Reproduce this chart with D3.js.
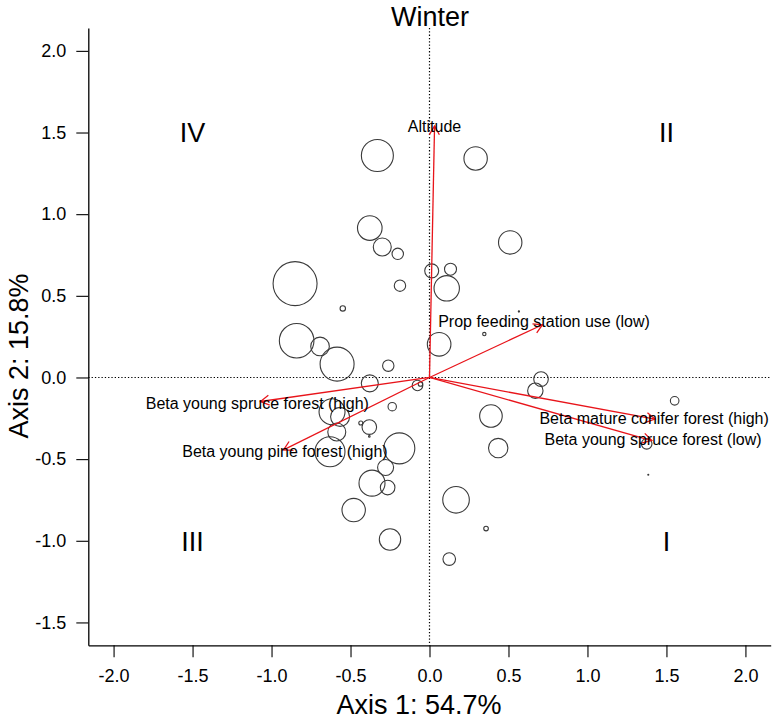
<!DOCTYPE html>
<html>
<head>
<meta charset="utf-8">
<script src="https://cdn.jsdelivr.net/npm/d3@7/dist/d3.min.js"></script>
<style>
  html, body { margin: 0; padding: 0; background: #fff; }
  svg { display: block; font-family: "Liberation Sans", Arial, Helvetica, sans-serif; }
</style>
</head>
<body>
<svg id="chart" width="778" height="722"></svg>
<script>
// ---- Data ----
const title = "Winter";
const xTitle = "Axis 1: 54.7%";
const yTitle = "Axis 2: 15.8%";
const xTicks = [-2.0, -1.5, -1.0, -0.5, 0.0, 0.5, 1.0, 1.5, 2.0];
const yTicks = [-1.5, -1.0, -0.5, 0.0, 0.5, 1.0, 1.5, 2.0];

// site scores (Axis 1, Axis 2) and relative symbol size
const siteX = [-0.330, -0.378, -0.299, -0.201, -0.851, -0.187, -0.549, 0.014, 0.133, 0.109,
               0.061, 0.347, 0.566, 0.292, 0.511, -0.841, -0.693, -0.585, -0.261, -0.378,
               -0.076, -0.057, -0.236, -0.617, -0.566, -0.587, -0.381, -0.435, -0.381, -0.630,
               -0.191, -0.278, -0.364, -0.265, -0.480, -0.250, 0.168, 0.125, 0.706, 0.670,
               1.552, 0.389, 0.435, 1.375, 1.385, 0.358];
const siteY = [1.359, 0.915, 0.799, 0.757, 0.575, 0.562, 0.423, 0.653, 0.663, 0.546,
               0.203, 0.266, 0.404, 1.341, 0.827, 0.225, 0.190, 0.082, 0.072, -0.036,
               -0.049, -0.040, -0.179, -0.210, -0.241, -0.334, -0.304, -0.279, -0.361, -0.455,
               -0.434, -0.551, -0.647, -0.674, -0.812, -0.992, -0.749, -1.112, -0.010, -0.081,
               -0.143, -0.236, -0.432, -0.406, -0.596, -0.925];
const siteSize = [16.0, 12.3, 9.0, 5.7, 22.0, 5.7, 2.7, 7.0, 6.0, 12.7,
                  11.8, 1.7, 0.6, 11.7, 11.7, 17.3, 9.3, 17.0, 5.7, 8.5,
                  5.3, 2.3, 4.2, 13.0, 9.5, 9.0, 7.3, 2.0, 0.8, 15.0,
                  15.5, 8.0, 13.0, 7.3, 11.7, 10.7, 13.3, 6.3, 7.3, 7.7,
                  4.3, 11.3, 9.7, 5.3, 0.5, 2.3];

// environmental vectors
const vecNames = ["Altitude", "Prop feeding station use (low)", "Beta young spruce forest (high)",
                  "Beta young pine forest (high)", "Beta mature conifer forest (high)",
                  "Beta young spruce forest (low)"];
const vecX = [0.032, 0.715, -1.070, -0.924, 1.428, 1.407];
const vecY = [1.540, 0.323, -0.147, -0.443, -0.255, -0.386];
const labelX = [0.032, 0.725, -1.090, -0.915, 1.422, 1.415];
const labelY = [1.540, 0.345, -0.157, -0.453, -0.248, -0.378];

// quadrant labels
const quadNames = ["IV", "II", "III", "I"];
const quadX = [-1.5, 1.5, -1.5, 1.5];
const quadY = [1.5, 1.5, -1.0, -1.0];

// ---- Drawing ----
const svg = d3.select("#chart");
const x = d3.scaleLinear().domain([-2.16, 2.16]).range([88.3, 770.7]);
const y = d3.scaleLinear().domain([-1.64, 2.14]).range([645.3, 28]);
const r = d3.scaleLinear().domain([0, 22]).range([0, 22]);

// dotted zero lines
svg.append("line")
  .attr("x1", x(0)).attr("x2", x(0)).attr("y1", y(2.14)).attr("y2", y(-1.64))
  .attr("stroke", "#000").attr("stroke-width", 1.2).attr("stroke-dasharray", "1.3,2");
svg.append("line")
  .attr("x1", x(-2.16)).attr("x2", x(2.16)).attr("y1", y(0)).attr("y2", y(0))
  .attr("stroke", "#000").attr("stroke-width", 1.2).attr("stroke-dasharray", "1.3,2");

// axes
const fmt = d => d.toFixed(1);
const gx = svg.append("g").attr("transform", `translate(0,${y(-1.64)})`)
  .call(d3.axisBottom(x).tickValues(xTicks).tickFormat(fmt).tickSize(12).tickSizeOuter(0).tickPadding(12));
const gy = svg.append("g").attr("transform", `translate(${x(-2.16)},0)`)
  .call(d3.axisLeft(y).tickValues(yTicks).tickFormat(fmt).tickSize(12).tickSizeOuter(0).tickPadding(10));
[gx, gy].forEach(g => {
  g.selectAll("path.domain").attr("stroke", "#000").attr("stroke-width", 1.3);
  g.selectAll(".tick line").attr("stroke", "#000").attr("stroke-width", 1.1);
  g.selectAll(".tick text").attr("fill", "#000").style("font-size", "18px")
    .style("font-family", '"Liberation Sans", Arial, sans-serif');
});

// circles
const sites = siteX.map((d, i) => ({x: d, y: siteY[i], s: siteSize[i]}));
svg.append("g").selectAll("circle").data(sites).join("circle")
  .attr("cx", d => x(d.x)).attr("cy", d => y(d.y)).attr("r", d => r(d.s))
  .attr("fill", "none").attr("stroke", "#3a3a3a").attr("stroke-width", 1.1);

// arrows
const vecs = vecNames.map((n, i) => ({name: n, x: vecX[i], y: vecY[i], lx: labelX[i], ly: labelY[i]}));
const ag = svg.append("g").attr("stroke", "#e8141a").attr("stroke-width", 1.3).attr("fill", "none");
vecs.forEach(v => {
  const x0 = x(0), y0 = y(0), x1 = x(v.x), y1 = y(v.y);
  ag.append("line").attr("x1", x0).attr("y1", y0).attr("x2", x1).attr("y2", y1);
  const ang = Math.atan2(y1 - y0, x1 - x0);
  const L = 10, a = Math.PI / 6;
  const p = d3.path();
  p.moveTo(x1 - L * Math.cos(ang - a), y1 - L * Math.sin(ang - a));
  p.lineTo(x1, y1);
  p.lineTo(x1 - L * Math.cos(ang + a), y1 - L * Math.sin(ang + a));
  ag.append("path").attr("d", p.toString());
});
svg.append("g").selectAll("text").data(vecs).join("text")
  .attr("x", d => x(d.lx)).attr("y", d => y(d.ly)).attr("dy", "0.35em")
  .attr("text-anchor", "middle").style("font-size", "16px").attr("fill", "#000")
  .text(d => d.name);

// quadrant labels
svg.append("g").selectAll("text").data(quadNames).join("text")
  .attr("x", (d, i) => x(quadX[i])).attr("y", (d, i) => y(quadY[i])).attr("dy", "0.36em")
  .attr("text-anchor", "middle").style("font-size", "27px").attr("fill", "#000")
  .text(d => d);

// titles
svg.append("text").attr("x", 430).attr("y", 26).attr("text-anchor", "middle")
  .style("font-size", "27px").text(title);
svg.append("text").attr("x", 419).attr("y", 714).attr("text-anchor", "middle")
  .style("font-size", "27px").text(xTitle);
svg.append("text").attr("transform", "translate(28,356) rotate(-90)").attr("text-anchor", "middle")
  .style("font-size", "27px").text(yTitle);
</script>
</body>
</html>
